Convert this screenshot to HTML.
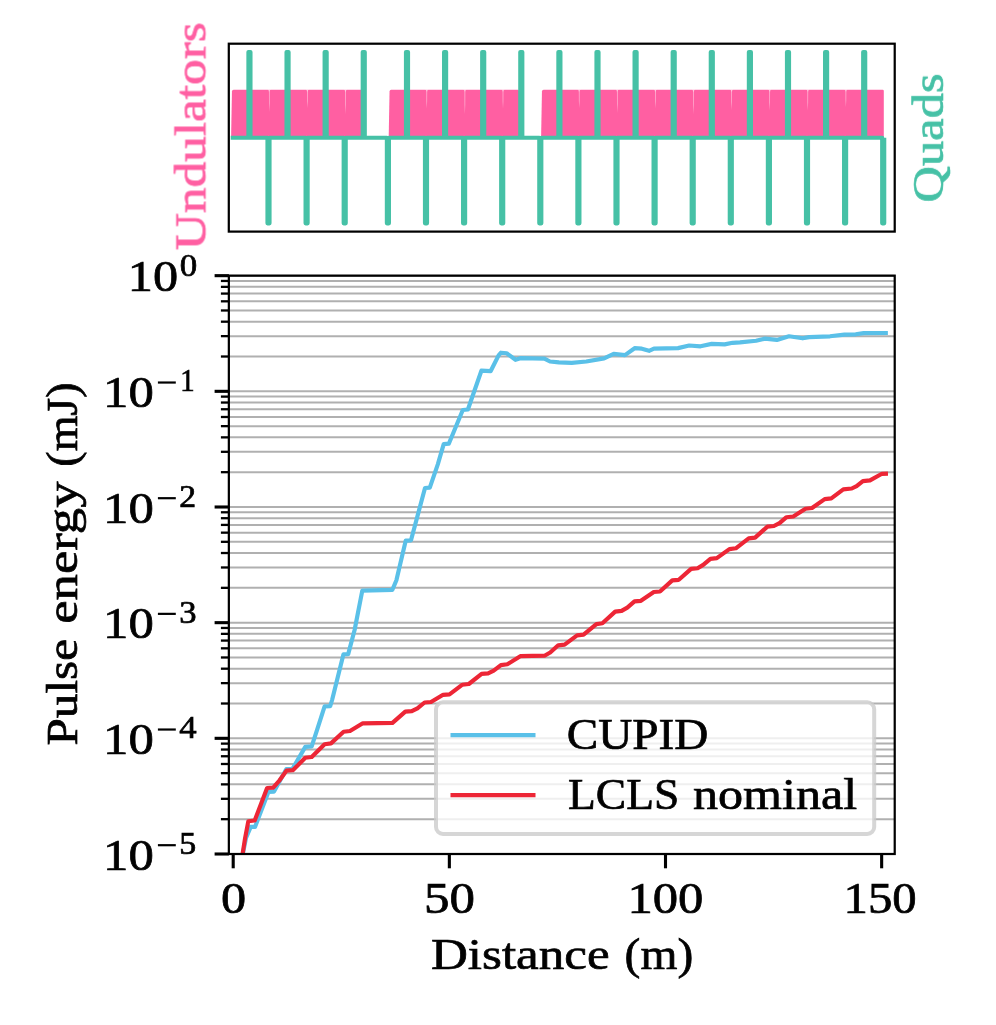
<!DOCTYPE html>
<html><head><meta charset="utf-8"><title>plot</title>
<style>html,body{margin:0;padding:0;background:#fff}svg{display:block}text{font-family:"Liberation Serif",serif}</style>
</head><body>
<svg width="996" height="1025" viewBox="0 0 996 1025">
<rect width="996" height="1025" fill="#fff"/>
<path d="M231.1,137.7 L231.95,91.39999999999999 Q232.00,89.8 233.60,89.8 L360.80,89.8 Q362.0,89.8 362.0,91.0 L362.0,137.7 Z" fill="#ff5fa2"/>
<path d="M388.7,137.7 L389.55,91.39999999999999 Q389.60,89.8 391.20,89.8 L517.80,89.8 Q519.0,89.8 519.0,91.0 L519.0,137.7 Z" fill="#ff5fa2"/>
<path d="M541.1,137.7 L541.95,91.39999999999999 Q542.00,89.8 543.60,89.8 L882.60,89.8 Q883.8,89.8 883.8,91.0 L883.8,137.7 Z" fill="#ff5fa2"/>
<path d="M267.60,89.6 Q268.90,89.8 268.95,92.0 L269.00,103.3 L269.30,112.3 L269.60,103.3 L269.65,92.0 Q269.70,89.8 271.00,89.6 Z" fill="#fff" fill-opacity="0.62"/>
<path d="M305.70,89.6 Q307.00,89.8 307.05,92.0 L307.10,100.9 L307.40,108.3 L307.70,100.9 L307.75,92.0 Q307.80,89.8 309.10,89.6 Z" fill="#fff" fill-opacity="0.62"/>
<path d="M343.80,89.6 Q345.10,89.8 345.15,92.0 L345.20,104.5 L345.50,114.3 L345.80,104.5 L345.85,92.0 Q345.90,89.8 347.20,89.6 Z" fill="#fff" fill-opacity="0.62"/>
<path d="M425.10,89.6 Q426.40,89.8 426.45,92.0 L426.50,101.2 L426.80,108.8 L427.10,101.2 L427.15,92.0 Q427.20,89.8 428.50,89.6 Z" fill="#fff" fill-opacity="0.62"/>
<path d="M463.20,89.6 Q464.50,89.8 464.55,92.0 L464.60,104.5 L464.90,114.3 L465.20,104.5 L465.25,92.0 Q465.30,89.8 466.60,89.6 Z" fill="#fff" fill-opacity="0.62"/>
<path d="M501.30,89.6 Q502.60,89.8 502.65,92.0 L502.70,101.2 L503.00,108.8 L503.30,101.2 L503.35,92.0 Q503.40,89.8 504.70,89.6 Z" fill="#fff" fill-opacity="0.62"/>
<path d="M577.50,89.6 Q578.80,89.8 578.85,92.0 L578.90,100.9 L579.20,108.3 L579.50,100.9 L579.55,92.0 Q579.60,89.8 580.90,89.6 Z" fill="#fff" fill-opacity="0.62"/>
<path d="M615.60,89.6 Q616.90,89.8 616.95,92.0 L617.00,103.9 L617.30,113.3 L617.60,103.9 L617.65,92.0 Q617.70,89.8 619.00,89.6 Z" fill="#fff" fill-opacity="0.62"/>
<path d="M653.70,89.6 Q655.00,89.8 655.05,92.0 L655.10,101.2 L655.40,108.8 L655.70,101.2 L655.75,92.0 Q655.80,89.8 657.10,89.6 Z" fill="#fff" fill-opacity="0.62"/>
<path d="M691.80,89.6 Q693.10,89.8 693.15,92.0 L693.20,104.5 L693.50,114.3 L693.80,104.5 L693.85,92.0 Q693.90,89.8 695.20,89.6 Z" fill="#fff" fill-opacity="0.62"/>
<path d="M729.90,89.6 Q731.20,89.8 731.25,92.0 L731.30,102.1 L731.60,110.3 L731.90,102.1 L731.95,92.0 Q732.00,89.8 733.30,89.6 Z" fill="#fff" fill-opacity="0.62"/>
<path d="M768.00,89.6 Q769.30,89.8 769.35,92.0 L769.40,102.4 L769.70,110.8 L770.00,102.4 L770.05,92.0 Q770.10,89.8 771.40,89.6 Z" fill="#fff" fill-opacity="0.62"/>
<path d="M806.10,89.6 Q807.40,89.8 807.45,92.0 L807.50,102.4 L807.80,110.8 L808.10,102.4 L808.15,92.0 Q808.20,89.8 809.50,89.6 Z" fill="#fff" fill-opacity="0.62"/>
<path d="M844.20,89.6 Q845.50,89.8 845.55,92.0 L845.60,100.3 L845.90,107.3 L846.20,100.3 L846.25,92.0 Q846.30,89.8 847.60,89.6 Z" fill="#fff" fill-opacity="0.62"/>
<path d="M230.7,137.75 L248.45,137.75 L248.45,52.0 L250.45,52.0 L250.45,137.75 L267.50,137.75 L267.50,223.3 L269.50,223.3 L269.50,137.75 L286.55,137.75 L286.55,52.0 L288.55,52.0 L288.55,137.75 L305.60,137.75 L305.60,223.3 L307.60,223.3 L307.60,137.75 L324.65,137.75 L324.65,52.0 L326.65,52.0 L326.65,137.75 L343.70,137.75 L343.70,223.3 L345.70,223.3 L345.70,137.75 L362.75,137.75 L362.75,52.0 L364.75,52.0 L364.75,137.75 L386.90,137.75 L386.90,223.3 L388.90,223.3 L388.90,137.75 L406.00,137.75 L406.00,52.0 L408.00,52.0 L408.00,137.75 L425.00,137.75 L425.00,223.3 L427.00,223.3 L427.00,137.75 L444.10,137.75 L444.10,52.0 L446.10,52.0 L446.10,137.75 L463.10,137.75 L463.10,223.3 L465.10,223.3 L465.10,137.75 L482.20,137.75 L482.20,52.0 L484.20,52.0 L484.20,137.75 L501.20,137.75 L501.20,223.3 L503.20,223.3 L503.20,137.75 L520.30,137.75 L520.30,52.0 L522.30,52.0 L522.30,137.75 L539.30,137.75 L539.30,223.3 L541.30,223.3 L541.30,137.75 L558.40,137.75 L558.40,52.0 L560.40,52.0 L560.40,137.75 L577.40,137.75 L577.40,223.3 L579.40,223.3 L579.40,137.75 L596.50,137.75 L596.50,52.0 L598.50,52.0 L598.50,137.75 L615.50,137.75 L615.50,223.3 L617.50,223.3 L617.50,137.75 L634.60,137.75 L634.60,52.0 L636.60,52.0 L636.60,137.75 L653.60,137.75 L653.60,223.3 L655.60,223.3 L655.60,137.75 L672.70,137.75 L672.70,52.0 L674.70,52.0 L674.70,137.75 L691.70,137.75 L691.70,223.3 L693.70,223.3 L693.70,137.75 L710.80,137.75 L710.80,52.0 L712.80,52.0 L712.80,137.75 L729.80,137.75 L729.80,223.3 L731.80,223.3 L731.80,137.75 L748.90,137.75 L748.90,52.0 L750.90,52.0 L750.90,137.75 L767.90,137.75 L767.90,223.3 L769.90,223.3 L769.90,137.75 L787.00,137.75 L787.00,52.0 L789.00,52.0 L789.00,137.75 L806.00,137.75 L806.00,223.3 L808.00,223.3 L808.00,137.75 L825.10,137.75 L825.10,52.0 L827.10,52.0 L827.10,137.75 L844.10,137.75 L844.10,223.3 L846.10,223.3 L846.10,137.75 L863.20,137.75 L863.20,52.0 L865.20,52.0 L865.20,137.75 L882.20,137.75 L882.20,223.3 L884.20,223.3 L884.20,137.75" fill="none" stroke="#46c1a6" stroke-width="4.17" stroke-linejoin="round" stroke-linecap="butt"/>
<rect x="228.8" y="43.7" width="665.92" height="187.90" fill="none" stroke="#000" stroke-width="2.22"/>
<clipPath id="cp"><rect x="228.85" y="275.66" width="665.87" height="578.34"/></clipPath>
<line x1="228.85" x2="894.72" y1="356.51" y2="356.51" stroke="#b0b0b0" stroke-width="2.0"/>
<line x1="220.9" x2="228.85" y1="356.51" y2="356.51" stroke="#000" stroke-width="2.3"/>
<line x1="228.85" x2="894.72" y1="336.14" y2="336.14" stroke="#b0b0b0" stroke-width="2.0"/>
<line x1="220.9" x2="228.85" y1="336.14" y2="336.14" stroke="#000" stroke-width="2.3"/>
<line x1="228.85" x2="894.72" y1="321.69" y2="321.69" stroke="#b0b0b0" stroke-width="2.0"/>
<line x1="220.9" x2="228.85" y1="321.69" y2="321.69" stroke="#000" stroke-width="2.3"/>
<line x1="228.85" x2="894.72" y1="310.48" y2="310.48" stroke="#b0b0b0" stroke-width="2.0"/>
<line x1="220.9" x2="228.85" y1="310.48" y2="310.48" stroke="#000" stroke-width="2.3"/>
<line x1="228.85" x2="894.72" y1="301.32" y2="301.32" stroke="#b0b0b0" stroke-width="2.0"/>
<line x1="220.9" x2="228.85" y1="301.32" y2="301.32" stroke="#000" stroke-width="2.3"/>
<line x1="228.85" x2="894.72" y1="293.58" y2="293.58" stroke="#b0b0b0" stroke-width="2.0"/>
<line x1="220.9" x2="228.85" y1="293.58" y2="293.58" stroke="#000" stroke-width="2.3"/>
<line x1="228.85" x2="894.72" y1="286.87" y2="286.87" stroke="#b0b0b0" stroke-width="2.0"/>
<line x1="220.9" x2="228.85" y1="286.87" y2="286.87" stroke="#000" stroke-width="2.3"/>
<line x1="228.85" x2="894.72" y1="280.95" y2="280.95" stroke="#b0b0b0" stroke-width="2.0"/>
<line x1="220.9" x2="228.85" y1="280.95" y2="280.95" stroke="#000" stroke-width="2.3"/>
<line x1="228.85" x2="894.72" y1="472.18" y2="472.18" stroke="#b0b0b0" stroke-width="2.0"/>
<line x1="220.9" x2="228.85" y1="472.18" y2="472.18" stroke="#000" stroke-width="2.3"/>
<line x1="228.85" x2="894.72" y1="451.81" y2="451.81" stroke="#b0b0b0" stroke-width="2.0"/>
<line x1="220.9" x2="228.85" y1="451.81" y2="451.81" stroke="#000" stroke-width="2.3"/>
<line x1="228.85" x2="894.72" y1="437.36" y2="437.36" stroke="#b0b0b0" stroke-width="2.0"/>
<line x1="220.9" x2="228.85" y1="437.36" y2="437.36" stroke="#000" stroke-width="2.3"/>
<line x1="228.85" x2="894.72" y1="426.15" y2="426.15" stroke="#b0b0b0" stroke-width="2.0"/>
<line x1="220.9" x2="228.85" y1="426.15" y2="426.15" stroke="#000" stroke-width="2.3"/>
<line x1="228.85" x2="894.72" y1="416.99" y2="416.99" stroke="#b0b0b0" stroke-width="2.0"/>
<line x1="220.9" x2="228.85" y1="416.99" y2="416.99" stroke="#000" stroke-width="2.3"/>
<line x1="228.85" x2="894.72" y1="409.25" y2="409.25" stroke="#b0b0b0" stroke-width="2.0"/>
<line x1="220.9" x2="228.85" y1="409.25" y2="409.25" stroke="#000" stroke-width="2.3"/>
<line x1="228.85" x2="894.72" y1="402.54" y2="402.54" stroke="#b0b0b0" stroke-width="2.0"/>
<line x1="220.9" x2="228.85" y1="402.54" y2="402.54" stroke="#000" stroke-width="2.3"/>
<line x1="228.85" x2="894.72" y1="396.62" y2="396.62" stroke="#b0b0b0" stroke-width="2.0"/>
<line x1="220.9" x2="228.85" y1="396.62" y2="396.62" stroke="#000" stroke-width="2.3"/>
<line x1="228.85" x2="894.72" y1="587.84" y2="587.84" stroke="#b0b0b0" stroke-width="2.0"/>
<line x1="220.9" x2="228.85" y1="587.84" y2="587.84" stroke="#000" stroke-width="2.3"/>
<line x1="228.85" x2="894.72" y1="567.48" y2="567.48" stroke="#b0b0b0" stroke-width="2.0"/>
<line x1="220.9" x2="228.85" y1="567.48" y2="567.48" stroke="#000" stroke-width="2.3"/>
<line x1="228.85" x2="894.72" y1="553.02" y2="553.02" stroke="#b0b0b0" stroke-width="2.0"/>
<line x1="220.9" x2="228.85" y1="553.02" y2="553.02" stroke="#000" stroke-width="2.3"/>
<line x1="228.85" x2="894.72" y1="541.82" y2="541.82" stroke="#b0b0b0" stroke-width="2.0"/>
<line x1="220.9" x2="228.85" y1="541.82" y2="541.82" stroke="#000" stroke-width="2.3"/>
<line x1="228.85" x2="894.72" y1="532.66" y2="532.66" stroke="#b0b0b0" stroke-width="2.0"/>
<line x1="220.9" x2="228.85" y1="532.66" y2="532.66" stroke="#000" stroke-width="2.3"/>
<line x1="228.85" x2="894.72" y1="524.91" y2="524.91" stroke="#b0b0b0" stroke-width="2.0"/>
<line x1="220.9" x2="228.85" y1="524.91" y2="524.91" stroke="#000" stroke-width="2.3"/>
<line x1="228.85" x2="894.72" y1="518.21" y2="518.21" stroke="#b0b0b0" stroke-width="2.0"/>
<line x1="220.9" x2="228.85" y1="518.21" y2="518.21" stroke="#000" stroke-width="2.3"/>
<line x1="228.85" x2="894.72" y1="512.29" y2="512.29" stroke="#b0b0b0" stroke-width="2.0"/>
<line x1="220.9" x2="228.85" y1="512.29" y2="512.29" stroke="#000" stroke-width="2.3"/>
<line x1="228.85" x2="894.72" y1="703.51" y2="703.51" stroke="#b0b0b0" stroke-width="2.0"/>
<line x1="220.9" x2="228.85" y1="703.51" y2="703.51" stroke="#000" stroke-width="2.3"/>
<line x1="228.85" x2="894.72" y1="683.14" y2="683.14" stroke="#b0b0b0" stroke-width="2.0"/>
<line x1="220.9" x2="228.85" y1="683.14" y2="683.14" stroke="#000" stroke-width="2.3"/>
<line x1="228.85" x2="894.72" y1="668.69" y2="668.69" stroke="#b0b0b0" stroke-width="2.0"/>
<line x1="220.9" x2="228.85" y1="668.69" y2="668.69" stroke="#000" stroke-width="2.3"/>
<line x1="228.85" x2="894.72" y1="657.48" y2="657.48" stroke="#b0b0b0" stroke-width="2.0"/>
<line x1="220.9" x2="228.85" y1="657.48" y2="657.48" stroke="#000" stroke-width="2.3"/>
<line x1="228.85" x2="894.72" y1="648.32" y2="648.32" stroke="#b0b0b0" stroke-width="2.0"/>
<line x1="220.9" x2="228.85" y1="648.32" y2="648.32" stroke="#000" stroke-width="2.3"/>
<line x1="228.85" x2="894.72" y1="640.58" y2="640.58" stroke="#b0b0b0" stroke-width="2.0"/>
<line x1="220.9" x2="228.85" y1="640.58" y2="640.58" stroke="#000" stroke-width="2.3"/>
<line x1="228.85" x2="894.72" y1="633.87" y2="633.87" stroke="#b0b0b0" stroke-width="2.0"/>
<line x1="220.9" x2="228.85" y1="633.87" y2="633.87" stroke="#000" stroke-width="2.3"/>
<line x1="228.85" x2="894.72" y1="627.96" y2="627.96" stroke="#b0b0b0" stroke-width="2.0"/>
<line x1="220.9" x2="228.85" y1="627.96" y2="627.96" stroke="#000" stroke-width="2.3"/>
<line x1="228.85" x2="894.72" y1="819.18" y2="819.18" stroke="#b0b0b0" stroke-width="2.0"/>
<line x1="220.9" x2="228.85" y1="819.18" y2="819.18" stroke="#000" stroke-width="2.3"/>
<line x1="228.85" x2="894.72" y1="798.81" y2="798.81" stroke="#b0b0b0" stroke-width="2.0"/>
<line x1="220.9" x2="228.85" y1="798.81" y2="798.81" stroke="#000" stroke-width="2.3"/>
<line x1="228.85" x2="894.72" y1="784.36" y2="784.36" stroke="#b0b0b0" stroke-width="2.0"/>
<line x1="220.9" x2="228.85" y1="784.36" y2="784.36" stroke="#000" stroke-width="2.3"/>
<line x1="228.85" x2="894.72" y1="773.15" y2="773.15" stroke="#b0b0b0" stroke-width="2.0"/>
<line x1="220.9" x2="228.85" y1="773.15" y2="773.15" stroke="#000" stroke-width="2.3"/>
<line x1="228.85" x2="894.72" y1="763.99" y2="763.99" stroke="#b0b0b0" stroke-width="2.0"/>
<line x1="220.9" x2="228.85" y1="763.99" y2="763.99" stroke="#000" stroke-width="2.3"/>
<line x1="228.85" x2="894.72" y1="756.25" y2="756.25" stroke="#b0b0b0" stroke-width="2.0"/>
<line x1="220.9" x2="228.85" y1="756.25" y2="756.25" stroke="#000" stroke-width="2.3"/>
<line x1="228.85" x2="894.72" y1="749.54" y2="749.54" stroke="#b0b0b0" stroke-width="2.0"/>
<line x1="220.9" x2="228.85" y1="749.54" y2="749.54" stroke="#000" stroke-width="2.3"/>
<line x1="228.85" x2="894.72" y1="743.62" y2="743.62" stroke="#b0b0b0" stroke-width="2.0"/>
<line x1="220.9" x2="228.85" y1="743.62" y2="743.62" stroke="#000" stroke-width="2.3"/>
<line x1="228.85" x2="894.72" y1="275.66" y2="275.66" stroke="#b0b0b0" stroke-width="2.0"/>
<line x1="214.6" x2="228.85" y1="275.66" y2="275.66" stroke="#000" stroke-width="3.1"/>
<line x1="228.85" x2="894.72" y1="391.33" y2="391.33" stroke="#b0b0b0" stroke-width="2.0"/>
<line x1="214.6" x2="228.85" y1="391.33" y2="391.33" stroke="#000" stroke-width="3.1"/>
<line x1="228.85" x2="894.72" y1="507.00" y2="507.00" stroke="#b0b0b0" stroke-width="2.0"/>
<line x1="214.6" x2="228.85" y1="507.00" y2="507.00" stroke="#000" stroke-width="3.1"/>
<line x1="228.85" x2="894.72" y1="622.66" y2="622.66" stroke="#b0b0b0" stroke-width="2.0"/>
<line x1="214.6" x2="228.85" y1="622.66" y2="622.66" stroke="#000" stroke-width="3.1"/>
<line x1="228.85" x2="894.72" y1="738.33" y2="738.33" stroke="#b0b0b0" stroke-width="2.0"/>
<line x1="214.6" x2="228.85" y1="738.33" y2="738.33" stroke="#000" stroke-width="3.1"/>
<line x1="228.85" x2="894.72" y1="854.00" y2="854.00" stroke="#b0b0b0" stroke-width="2.0"/>
<line x1="214.6" x2="228.85" y1="854.00" y2="854.00" stroke="#000" stroke-width="3.1"/>
<line x1="233.20" x2="233.20" y1="854.0" y2="868.3" stroke="#000" stroke-width="3.1"/>
<line x1="449.35" x2="449.35" y1="854.0" y2="868.3" stroke="#000" stroke-width="3.1"/>
<line x1="665.50" x2="665.50" y1="854.0" y2="868.3" stroke="#000" stroke-width="3.1"/>
<line x1="881.65" x2="881.65" y1="854.0" y2="868.3" stroke="#000" stroke-width="3.1"/>
<path d="M242.9,853.5 L246.0,838.0 L250.7,826.9 L255.0,826.9 L268.4,791.9 L274.0,791.6 L286.4,769.0 L292.5,768.8 L305.3,746.9 L311.7,746.3 L317.4,728.9 L324.6,706.4 L330.2,706.1 L332.1,700.0 L343.4,654.4 L348.2,654.1 L354.6,630.0 L362.3,590.6 L392.4,589.8 L396.4,580.2 L405.7,540.7 L411.0,540.3 L425.0,488.0 L429.8,487.7 L437.8,464.3 L443.7,444.2 L448.8,443.7 L462.8,410.0 L467.9,409.5 L481.4,370.7 L490.6,371.2 L498.6,355.4 L501.0,352.7 L506.7,353.3 L515.5,359.8 L520.3,358.2 L544.4,358.6 L550.0,361.5 L558.9,362.3 L571.7,362.8 L586.3,361.5 L604.1,358.4 L613.7,353.9 L625.0,355.1 L634.6,348.2 L641.8,348.7 L649.1,350.8 L653.9,348.7 L678.0,348.1 L689.2,345.5 L700.5,346.3 L711.7,343.9 L724.6,344.4 L732.6,342.8 L740.0,342.4 L756.1,340.7 L764.9,338.6 L776.9,339.9 L789.0,336.3 L802.7,338.3 L809.1,337.1 L830.0,336.3 L844.4,334.6 L855.7,334.3 L863.7,333.1 L885.8,333.0" fill="none" stroke="#5ac0e8" stroke-width="4.17" stroke-linejoin="round" stroke-linecap="square" clip-path="url(#cp)"/>
<path d="M240.5,870.0 L242.7,853.4 L245.1,838.2 L248.3,821.3 L254.7,820.5 L267.1,788.0 L273.2,787.6 L279.6,780.3 L286.4,770.7 L292.8,770.2 L305.3,757.8 L311.7,757.0 L324.6,744.2 L331.0,743.4 L343.6,731.8 L350.0,731.0 L362.8,723.3 L392.5,722.9 L405.3,711.6 L411.8,711.2 L417.4,708.4 L424.6,702.5 L431.0,702.0 L443.1,694.8 L449.5,694.3 L462.4,684.7 L468.8,684.0 L481.6,673.9 L488.1,673.4 L493.7,670.7 L500.9,665.1 L507.3,664.3 L520.3,656.2 L544.5,655.7 L550.2,652.5 L558.2,645.3 L564.6,644.7 L577.1,635.3 L583.6,634.7 L596.4,624.1 L602.4,623.3 L615.2,611.6 L621.6,610.9 L627.3,607.6 L634.5,601.4 L640.9,600.8 L653.8,592.0 L660.0,591.5 L672.3,580.4 L678.8,579.8 L691.1,568.9 L697.6,568.2 L703.2,564.9 L710.4,558.9 L716.8,558.1 L729.4,549.1 L735.8,548.3 L748.7,538.4 L755.1,537.6 L767.4,526.6 L773.9,526.0 L779.5,523.1 L786.5,517.2 L793.3,516.5 L805.5,508.7 L812.0,508.0 L824.7,499.1 L831.3,498.4 L843.3,489.3 L851.7,488.5 L856.6,486.1 L862.9,481.1 L870.0,480.4 L881.9,473.8 L885.9,473.7" fill="none" stroke="#ed2636" stroke-width="4.17" stroke-linejoin="round" stroke-linecap="square" clip-path="url(#cp)"/>
<rect x="228.85" y="275.66" width="665.87" height="578.34" fill="none" stroke="#000" stroke-width="2.22"/>
<rect x="436.0" y="702.3" width="438.2" height="131.6" rx="7" fill="#fff" fill-opacity="0.8" stroke="#ccc" stroke-opacity="0.8" stroke-width="4.0"/>
<line x1="450.5" x2="535.5" y1="735.15" y2="735.15" stroke="#5ac0e8" stroke-width="4.17"/>
<line x1="450.5" x2="535.5" y1="795.1" y2="795.1" stroke="#ed2636" stroke-width="4.17"/>
<line x1="157.9" x2="175.8" y1="382.53" y2="382.53" stroke="#000" stroke-width="2.2"/>
<line x1="157.9" x2="175.8" y1="498.20" y2="498.20" stroke="#000" stroke-width="2.2"/>
<line x1="157.9" x2="175.8" y1="613.86" y2="613.86" stroke="#000" stroke-width="2.2"/>
<line x1="157.9" x2="175.8" y1="729.53" y2="729.53" stroke="#000" stroke-width="2.2"/>
<line x1="157.9" x2="175.8" y1="845.20" y2="845.20" stroke="#000" stroke-width="2.2"/>
<g opacity="0.999">
<text transform="translate(205.30,250.30) rotate(-90) scale(1.1667,1.02)" font-size="44.0" fill="#ff5fa2" stroke="#ff5fa2" stroke-width="0.7">Undulators</text>
<text transform="translate(942.90,202.68) rotate(-90) scale(1.1509,1.02)" font-size="44.0" fill="#46c1a6" stroke="#46c1a6" stroke-width="0.7">Quads</text>
<text transform="translate(566.73,749.00) scale(1.0726,1.02)" font-size="44.0" fill="#000" stroke="#000" stroke-width="0.7">CUPID</text>
<text transform="translate(567.99,809.00) scale(1.0343,1.02)" font-size="44.0" fill="#000" stroke="#000" stroke-width="0.7">LCLS</text>
<text transform="translate(693.02,809.00) scale(1.1379,1.03)" font-size="44.0" fill="#000" stroke="#000" stroke-width="0.7">nominal</text>
<text transform="translate(221.03,913.00) scale(1.1429,1.0)" font-size="44.0" fill="#000" stroke="#000" stroke-width="0.7">0</text>
<text transform="translate(424.11,913.00) scale(1.1587,1.0)" font-size="44.0" fill="#000" stroke="#000" stroke-width="0.7">50</text>
<text transform="translate(627.44,913.00) scale(1.1522,1.0)" font-size="44.0" fill="#000" stroke="#000" stroke-width="0.7">100</text>
<text transform="translate(843.59,913.00) scale(1.1081,1.0)" font-size="44.0" fill="#000" stroke="#000" stroke-width="0.7">150</text>
<text transform="translate(430.95,969.10) scale(1.1607,1.02)" font-size="44.0" fill="#000" stroke="#000" stroke-width="0.7">Distance</text>
<text transform="translate(624.62,969.10) scale(1.0798,1.02)" font-size="44.0" fill="#000" stroke="#000" stroke-width="0.7">(m)</text>
<text transform="translate(77.00,745.57) rotate(-90) scale(1.1185,1.02)" font-size="44.0" fill="#000" stroke="#000" stroke-width="0.7">Pulse</text>
<text transform="translate(77.00,623.85) rotate(-90) scale(1.1979,1.03)" font-size="44.0" fill="#000" stroke="#000" stroke-width="0.7">energy</text>
<text transform="translate(77.00,466.64) rotate(-90) scale(1.0439,1.02)" font-size="44.0" fill="#000" stroke="#000" stroke-width="0.7">(mJ)</text>
<text transform="translate(127.87,291.46) scale(1.1432,1.0)" font-size="44.0" fill="#000" stroke="#000" stroke-width="0.7">10</text>
<text transform="translate(179.81,275.56) scale(1.1354,1.0)" font-size="30.799999999999997" fill="#000" stroke="#000" stroke-width="0.7">0</text>
<text transform="translate(103.04,407.13) scale(1.1534,1.0)" font-size="44.0" fill="#000" stroke="#000" stroke-width="0.7">10</text>
<text transform="translate(180.15,391.23) scale(0.9351,1.0)" font-size="30.799999999999997" fill="#000" stroke="#000" stroke-width="0.7">1</text>
<text transform="translate(103.04,522.80) scale(1.1534,1.0)" font-size="44.0" fill="#000" stroke="#000" stroke-width="0.7">10</text>
<text transform="translate(179.35,506.90) scale(1.0928,1.0)" font-size="30.799999999999997" fill="#000" stroke="#000" stroke-width="0.7">2</text>
<text transform="translate(103.04,638.46) scale(1.1534,1.0)" font-size="44.0" fill="#000" stroke="#000" stroke-width="0.7">10</text>
<text transform="translate(179.18,622.56) scale(1.1236,1.0)" font-size="30.799999999999997" fill="#000" stroke="#000" stroke-width="0.7">3</text>
<text transform="translate(103.04,754.13) scale(1.1534,1.0)" font-size="44.0" fill="#000" stroke="#000" stroke-width="0.7">10</text>
<text transform="translate(179.16,738.23) scale(1.1290,1.0)" font-size="30.799999999999997" fill="#000" stroke="#000" stroke-width="0.7">4</text>
<text transform="translate(103.04,869.80) scale(1.1534,1.0)" font-size="44.0" fill="#000" stroke="#000" stroke-width="0.7">10</text>
<text transform="translate(179.21,853.90) scale(1.1005,1.0)" font-size="30.799999999999997" fill="#000" stroke="#000" stroke-width="0.7">5</text>
</g>
</svg>
</body></html>
